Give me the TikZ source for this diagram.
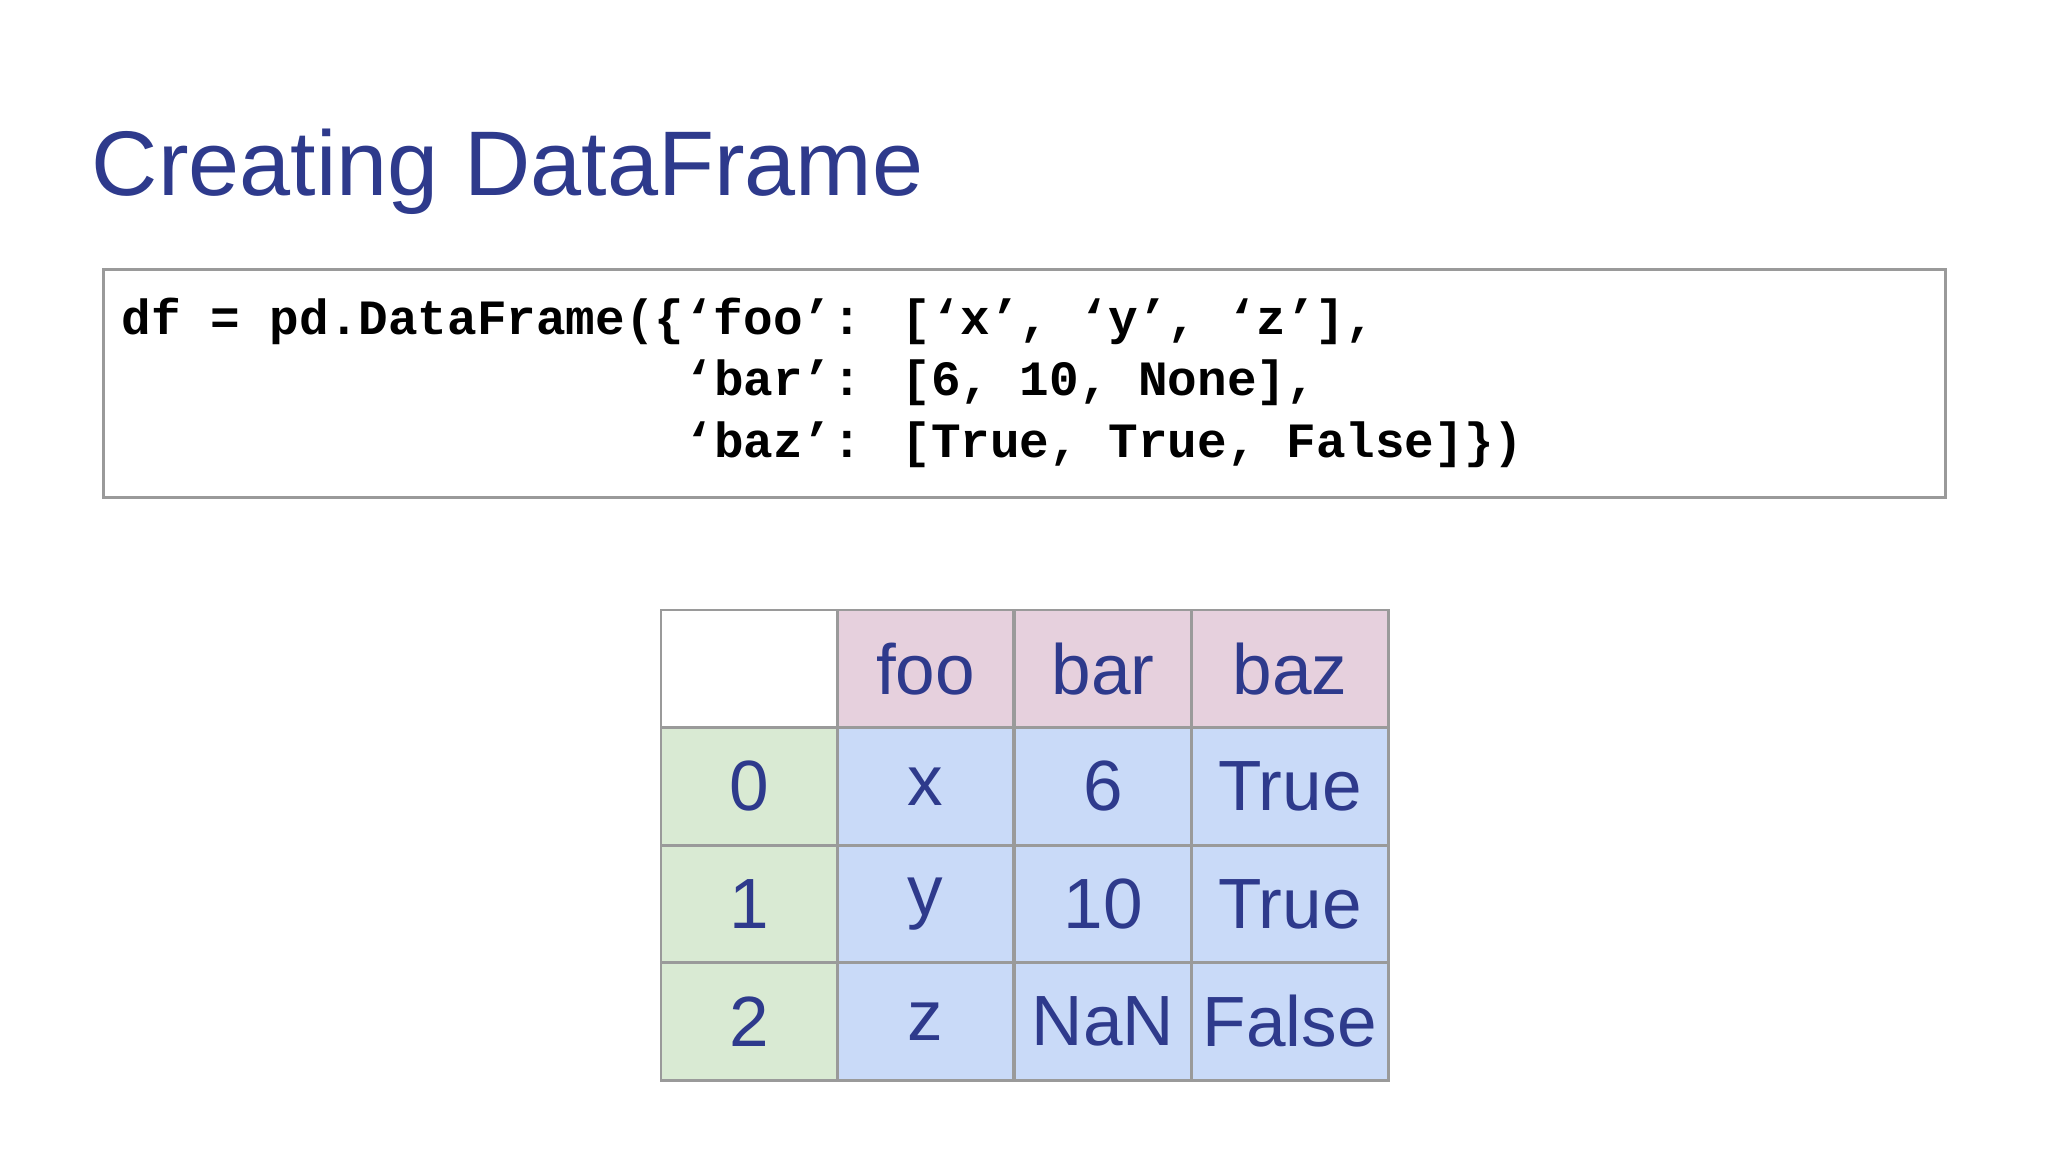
\documentclass[tikz,border=0pt]{standalone}
\usepackage{fontspec}
\setmainfont{Liberation Sans}
\newfontfamily\codefont{Liberation Mono}
\definecolor{tblue}{HTML}{2E3A8C}
\definecolor{hpink}{HTML}{E6D0DD}
\definecolor{igreen}{HTML}{D9EAD3}
\definecolor{bblue}{HTML}{C9DAF8}
\definecolor{gline}{HTML}{9A9A9A}
\tikzset{cell/.style={draw=gline,line width=1.2pt,minimum width=2.7cm,minimum height=1.8cm,inner sep=0pt,text=tblue,font=\fontsize{31}{31}\selectfont,anchor=north west},
code/.style={anchor=base west,inner sep=0pt,font=\codefont\bfseries\fontsize{21.5}{21.5}\selectfont}}
\begin{document}
\begin{tikzpicture}[x=0.02cm,y=-0.02cm]
\useasboundingbox[fill=white] (0,0) rectangle (1568,882);
\node[anchor=base west,inner sep=0pt,text=tblue,font=\fontsize{40}{40}\selectfont] (title) at (70,150) {Creating DataFrame};
\node[draw=gline,line width=1.2pt,minimum width=28.22cm,minimum height=3.5cm,anchor=north west,inner sep=0pt] (box) at (78,205) {};
\node[code] (l1) at (93,256) {df = pd.DataFrame(\{‘foo’: [‘x’, ‘y’, ‘z’],};
\node[code] (l2) at (93,303) {\phantom{df = pd.DataFrame(\{}‘bar’: [6, 10, None],};
\node[code] (l3) at (93,350) {\phantom{df = pd.DataFrame(\{}‘baz’: [True, True, False]\})};
% table
\node[cell,fill=white] (c00) at (505,466) {};
\node[cell,fill=hpink] (c01) at (640,466) {foo};
\node[cell,fill=hpink] (c02) at (776,466) {bar};
\node[cell,fill=hpink,minimum width=3.02cm] (c03) at (911,466) {baz};
\node[cell,fill=igreen] (c10) at (505,556) {0};
\node[cell,fill=bblue] (c11) at (640,556) {x};
\node[cell,fill=bblue] (c12) at (776,556) {6};
\node[cell,fill=bblue,minimum width=3.02cm] (c13) at (911,556) {True};
\node[cell,fill=igreen] (c20) at (505,646) {1};
\node[cell,fill=bblue] (c21) at (640,646) {y};
\node[cell,fill=bblue] (c22) at (776,646) {10};
\node[cell,fill=bblue,minimum width=3.02cm] (c23) at (911,646) {True};
\node[cell,fill=igreen] (c30) at (505,736) {2};
\node[cell,fill=bblue] (c31) at (640,736) {z};
\node[cell,fill=bblue] (c32) at (776,736) {NaN};
\node[cell,fill=bblue,minimum width=3.02cm] (c33) at (911,736) {False};
\end{tikzpicture}
\end{document}
